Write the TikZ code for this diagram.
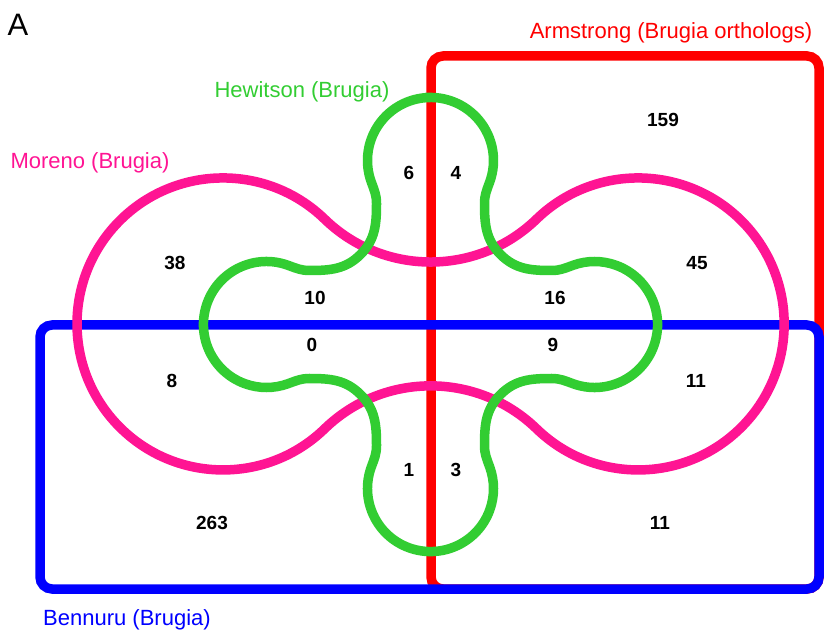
\documentclass[tikz,border=0pt]{standalone}
\usepackage{fontspec}
\setmainfont{Liberation Sans}
\usepackage{tikz}
\usetikzlibrary{calc}
\definecolor{armred}  {RGB}{255, 0,   0}
\definecolor{benblue} {RGB}{0,   0,   255}
\definecolor{morpink} {RGB}{255, 20,  147}
\definecolor{hewgreen}{RGB}{50,  205, 50}

\begin{document}
\begin{tikzpicture}[x=1pt,y=1pt,
	setline/.style={line width=9.5pt},
	count/.style={font=\fontsize{19}{19}\selectfont\bfseries},
	setname/.style={font=\fontsize{22}{22}\selectfont}]
	\useasboundingbox (0,0) rectangle (840,632);
	% boxes
	\draw[setline,armred,rounded corners=12] (431,43) rectangle (819,576);
	\draw[setline,benblue,rounded corners=12] (40,43) rectangle (819,307);
	% moreno: two lobes joined by necks
	\draw[setline,morpink] (324.6,412.9)
		arc[start angle=45.9,end angle=314.1,radius=146]
		arc[start angle=134.1,end angle=45.9,radius=152.3]
		arc[start angle=225.9,end angle=494.1,radius=146]
		arc[start angle=314.1,end angle=225.9,radius=152.3] -- cycle;
	% hewitson: four lobes
	\begin{scope}[shift={(430.5,307.5)}]
		\draw[setline,hewgreen] (0,227)
			arc[start angle=90,end angle=200,radius=63]
			to[out=290,in=90] (-54,121) to[out=270,in=45] (-70,70)
			to[out=225,in=0] (-121,54) to[out=180,in=340] (-142.5,59.2)
			arc[start angle=70,end angle=290,radius=63]
			to[out=20,in=180] (-121,-54) to[out=0,in=135] (-70,-70)
			to[out=315,in=90] (-54,-121) to[out=270,in=70] (-59.2,-142.5)
			arc[start angle=160,end angle=380,radius=63]
			to[out=110,in=270] (54,-121) to[out=90,in=225] (70,-70)
			to[out=45,in=180] (121,-54) to[out=0,in=160] (142.5,-59.2)
			arc[start angle=250,end angle=470,radius=63]
			to[out=200,in=0] (121,54) to[out=180,in=315] (70,70)
			to[out=135,in=270] (54,121) to[out=90,in=250] (59.2,142.5)
			arc[start angle=340,end angle=450,radius=63] -- cycle;
	\end{scope}
	% counts
	\node[count] (c159) at (663,512) {159};
	\node[count] (c6) at (409,459) {6};
	\node[count] (c4) at (456,459) {4};
	\node[count] (c38) at (175,369) {38};
	\node[count] (c45) at (697,369) {45};
	\node[count] (c10) at (315,334) {10};
	\node[count] (c16) at (555,334) {16};
	\node[count] (c0) at (312,287) {0};
	\node[count] (c9) at (553,287) {9};
	\node[count] (c8) at (172,251) {8};
	\node[count] (c11a) at (696,251) {11};
	\node[count] (c1) at (409,162) {1};
	\node[count] (c3) at (456,162) {3};
	\node[count] (c263) at (212,109) {263};
	\node[count] (c11b) at (660,109) {11};
	% set names
	\node[setname,armred] (armstrong) at (671,599) {Armstrong (Brugia orthologs)};
	\node[setname,hewgreen] (hewitson) at (302,540) {Hewitson (Brugia)};
	\node[setname,morpink] (moreno) at (90,469) {Moreno (Brugia)};
	\node[setname,benblue] (bennuru) at (127,12) {Bennuru (Brugia)};
	\node[font=\fontsize{31}{31}\selectfont] (panel) at (18,607) {A};
\end{tikzpicture}
\end{document}
